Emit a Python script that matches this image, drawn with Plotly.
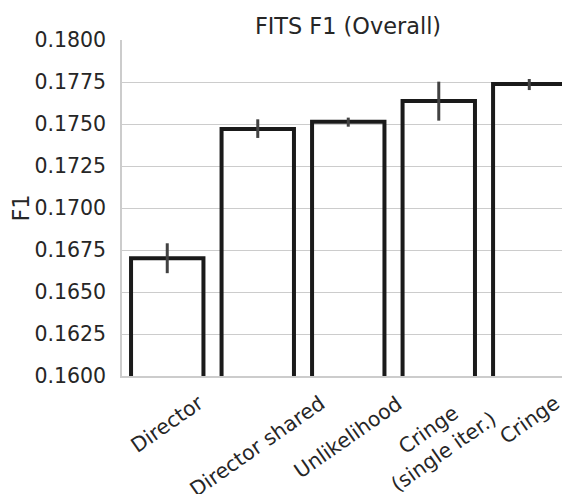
import plotly.graph_objects as go

categories = ["Director", "Director shared", "Unlikelihood", "Cringe<br>(single iter.)", "Cringe"]
f1_values = [0.16701, 0.17470, 0.17514, 0.17637, 0.17738]
err_upper = [0.16790, 0.17528, 0.17538, 0.17752, 0.17768]
err_lower = [0.16612, 0.17417, 0.17484, 0.17520, 0.17702]
y_ticks = [0.1600, 0.1625, 0.1650, 0.1675, 0.1700, 0.1725, 0.1750, 0.1775, 0.1800]

xs = list(range(len(categories)))
plus = [u - v for u, v in zip(err_upper, f1_values)]
minus = [v - l for v, l in zip(f1_values, err_lower)]

FONT = "DejaVu Sans"
TXT = "#262626"
OFF = 8  # page body margin offset

fig = go.Figure()
fig.add_trace(go.Bar(
    x=xs, y=f1_values, width=0.8,
    marker=dict(color="rgba(0,0,0,0)", line=dict(color="#1a1a1a", width=4)),
    error_y=dict(type="data", symmetric=False, array=plus, arrayminus=minus,
                 color="#424242", thickness=3, width=0),
    showlegend=False,
))

for x, lab in zip(xs, categories):
    multi = "<br>" in lab
    fig.add_annotation(
        x=x, xref="x", y=0, yref="paper",
        text=lab, textangle=-35, showarrow=False,
        xanchor="center", yanchor="top", yshift=-6 if multi else -12,
        xshift=-2 if multi else 0,
        font=dict(family=FONT, size=20.5, color=TXT), align="center",
    )

W, H = 570 - OFF, 494 - OFF
fig.update_layout(
    width=W, height=H,
    margin=dict(l=122 - OFF, r=0, t=40 - OFF, b=118),
    paper_bgcolor="white", plot_bgcolor="white",
    title=dict(text="FITS F1 (Overall)", x=(348 - OFF) / W, xanchor="center",
               y=1 - (26 - OFF) / H, yanchor="middle",
               font=dict(family=FONT, size=22.4, color=TXT)),
    xaxis=dict(range=[-0.5, 4.45], showticklabels=False, showgrid=False,
               zeroline=False, showline=True, linecolor="#cccccc", linewidth=1.5,
               ticks=""),
    yaxis=dict(range=[0.16, 0.18], tickvals=y_ticks, tickformat=".4f",
               showgrid=True, gridcolor="#cccccc", gridwidth=1.3,
               zeroline=False, showline=True, linecolor="#cccccc", linewidth=1.5,
               ticks="", ticklabelstandoff=10,
               tickfont=dict(family=FONT, size=20.5, color=TXT),
               title=dict(text="F1", standoff=4,
                          font=dict(family=FONT, size=22.4, color=TXT))),
)

fig.write_html("out.html")
